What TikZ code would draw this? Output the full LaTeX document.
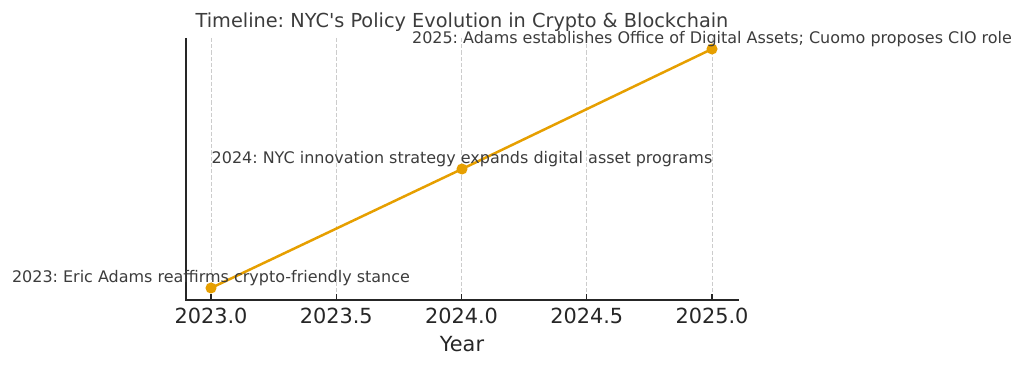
\documentclass[tikz,border=0pt]{standalone}
\usepackage{fontspec}
\setmainfont{DejaVu Sans}
\usetikzlibrary{positioning,calc}
\frenchspacing
\definecolor{LineOrange}{RGB}{230,159,0}
\definecolor{TextGray}{RGB}{60,60,60}
\definecolor{TickGray}{RGB}{38,38,38}
\definecolor{GridGray}{RGB}{204,204,204}
\tikzset{
  grid/.style={draw=GridGray,dashed,dash pattern=on 3pt off 1.5pt,line width=0.6pt},
  axis/.style={draw=TickGray,line width=1pt},
  tickmark/.style={draw=TickGray,line width=0.8pt},
  trend/.style={draw=LineOrange,line width=1.8pt},
  dot/.style={circle,fill=LineOrange,inner sep=0pt,minimum size=8pt},
  note/.style={font=\fontsize{11.5}{13}\selectfont,text=TextGray,anchor=base,inner sep=0pt},
  ticklabel/.style={font=\fontsize{15}{17}\selectfont,text=TickGray,anchor=base,inner sep=0pt},
  ttl/.style={font=\fontsize{13.9}{17}\selectfont,text=TextGray,anchor=base,inner sep=0pt},
}

\begin{document}
\begin{tikzpicture}[x=0.72pt,y=-0.72pt]
  \useasboundingbox (0,0) rectangle (1024,368);
  % grid, ticks and tick labels
  \foreach \k/\yr in {0/2023.0,1/2023.5,2/2024.0,3/2024.5,4/2025.0}{
    \draw[grid] (211+125.25*\k,38) -- (211+125.25*\k,300);
    \draw[tickmark] (211+125.25*\k,300) -- ++(0,-6);
    \node[ticklabel] (tick\k) at (211+125.25*\k,323) {\yr};
  }
  % axes
  \coordinate (ytop) at (186,38);
  \coordinate (origin) at (186,300);
  \coordinate (xend) at (739,300);
  \draw[axis] (ytop) -- (origin) -- (xend);
  % events
  \node[dot] (e23) at (211,288) {};
  \node[dot] (e24) at (462,169) {};
  \node[dot] (e25) at (712,49) {};
  \draw[trend] (e23.center) -- (e24.center) -- (e25.center);
  \node[note] (n23) at ([yshift=4.3pt]e23.center) {2023: Eric Adams reaffirms crypto-friendly stance};
  \node[note] (n24) at ([yshift=4.3pt]e24.center) {2024: NYC innovation strategy expands digital asset programs};
  \node[note] (n25) at ([yshift=4.3pt]e25.center) {2025: Adams establishes Office of Digital Assets; Cuomo proposes CIO role};
  % titles
  \node[ttl] (title) at (462,28) {Timeline: NYC\textquotesingle s Policy Evolution in Crypto \& Blockchain};
  \node[ticklabel] (xlabel) at (462,351) {Year};
\end{tikzpicture}
\end{document}
